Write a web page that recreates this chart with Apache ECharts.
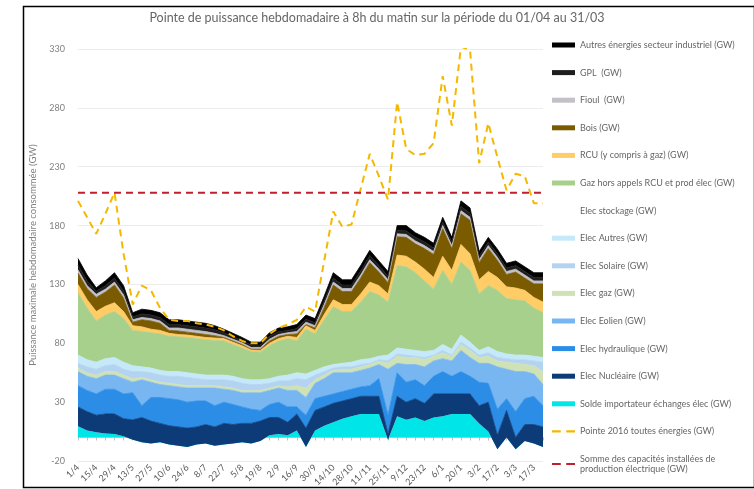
<!DOCTYPE html>
<html>
<head>
<meta charset="utf-8">
<script src="https://cdn.jsdelivr.net/npm/echarts@6/dist/echarts.min.js"></script>
<style>
  html, body { margin: 0; padding: 0; background: #ffffff; }
  #chart { width: 754px; height: 489px; }
</style>
</head>
<body>
<div id="chart"></div>
<script>
// semaines (lundi de chaque semaine, du 01/04 au 31/03)
const semaines = ['1/4', '8/4', '15/4', '22/4', '29/4', '6/5', '13/5', '20/5', '27/5', '3/6', '10/6', '17/6', '24/6',
  '1/7', '8/7', '15/7', '22/7', '29/7', '5/8', '12/8', '19/8', '26/8', '2/9', '9/9', '16/9', '23/9', '30/9',
  '7/10', '14/10', '21/10', '28/10', '4/11', '11/11', '18/11', '25/11', '2/12', '9/12', '16/12', '23/12', '30/12',
  '6/1', '13/1', '20/1', '27/1', '3/2', '10/2', '17/2', '24/2', '3/3', '10/3', '17/3', '24/3'];

const soldeImport = [9.5, 6, 4.5, 3.5, 3, 1, -2, -4, -5, -4, -6, -7, -8, -6, -5, -7, -6, -5, -4, -5, -3, 2, 3, 2, 6, -8,
  6, 10, 13, 16, 18, 20, 20, 20, -2, 18, 15, 17, 14, 17, 18, 20, 20, 20, 12, 5, -10, 0, -10, -3, -5, -8];
const elecNucleaire = [16.5, 16, 14.5, 16.5, 17, 15, 17, 21, 19, 16, 16, 16, 16, 15, 16, 16, 18, 16, 16, 17, 17, 15, 14, 11, 14, 16,
  17, 16, 16, 15, 15, 15, 15, 15, 5, 17, 15, 16, 15, 20, 19, 17, 17, 17, 15, 25, 12, 23, 10, 14, 16, 17];
const elecHydraulique = [18, 18, 18, 21, 21, 21, 23, 10, 20, 22, 23, 23, 22, 22, 20, 18, 18, 17, 14, 12, 9, 11, 13, 13, 6, 11,
  10, 9, 8, 8, 8, 8, 9, 15, 16, 20, 17, 16, 15, 15, 19, 15, 19, 15, 20, 16, 22, 10, 22, 22, 24, 18];
const elecEolien = [12, 12, 13, 12, 12, 13, 9, 22, 13, 11, 11, 11, 12, 11, 11, 15, 11, 12, 12, 14, 15, 12, 12, 14, 14, 15,
  13, 15, 18, 16, 14, 14, 15, 12, 39, 8, 15, 13, 16, 13, 11, 13, 18, 16, 16, 17, 36, 25, 34, 23, 19, 18];
const elecGaz = [3, 3, 3, 3, 3, 3, 3, 2, 2, 2, 2, 2, 2, 2, 2, 2, 2, 2, 2, 2, 2, 2, 2, 3, 4, 8,
  3, 3, 2, 3, 3, 3, 3, 3, 5, 6, 6, 6, 6, 4, 5, 4, 5, 6, 5, 6, 5, 6, 7, 6, 7, 11];
const elecSolaire = [4, 5, 5, 5, 6, 5, 6, 5, 6, 6, 6, 7, 7, 6, 5, 5, 6, 6, 6, 5, 5, 4, 4, 5, 6, 7,
  4, 3, 2, 2, 2, 2, 1, 1, 2, 2, 2, 1, 2, 1, 2, 1, 2, 2, 2, 3, 3, 3, 3, 4, 4, 8];
const elecAutres = [7, 6, 6, 6, 6, 6, 5, 4, 4, 4, 4, 4, 4, 4, 4, 4, 4, 4, 4, 4, 4, 4, 4, 5, 5, 5,
  4, 4, 3, 3, 4, 4, 4, 3, 5, 5, 5, 5, 5, 4, 5, 5, 6, 5, 4, 5, 5, 4, 4, 4, 4, 4];
const elecStockage = [0, 0, 0, 0, 0, 0, 0, 0, 0, 0, 0, 0, 0, 0, 0, 0, 0, 0, 0, 0, 0, 0, 0, 0, 0, 0,
  0, 0, 0, 0, 0, 0, 0, 0, 0, 0, 0, 0, 0, 0, 0, 0, 0, 0, 0, 0, 0, 0, 0, 0, 0, 0];
const gazHorsRcu = [53, 44, 35, 37, 39, 37, 30, 30, 30, 31, 30, 29.5, 30, 30, 30, 29.5, 29, 27, 26, 24, 23.5, 28, 30, 31, 27, 38,
  31, 40, 49, 44, 43, 49, 57, 52, 45, 70, 70, 66, 60, 52, 63, 55, 62, 61, 48, 52, 52, 47, 47, 46, 41, 38];
const rcu = [7, 7, 8, 7.5, 7.5, 6, 4, 4, 3, 3, 2.5, 2, 2, 2, 2, 2, 2, 2, 2, 1.5, 1.5, 2, 2, 2, 3, 3,
  3, 4.5, 6, 6, 6, 7, 8, 8, 7, 9, 9, 9, 10, 10, 12, 12, 15, 14, 12, 12, 11, 10, 10, 9, 9, 9];
const bois = [9.7, 9.5, 12, 12, 15, 11.5, 3, 6, 7, 6, 2.5, 3, 2.5, 2.5, 2.5, 2, 1, 1, 1, 0.5, 1, 2, 2, 1.5, 3, 1,
  2, 6, 12.5, 11, 11, 13.5, 16.5, 11.5, 9.5, 15.5, 16, 15.5, 17.5, 19.5, 23.5, 18.5, 26, 28.5, 14.5, 19.5, 14.5, 10.5, 13.5, 10.5, 11.5, 15.5];
const fioul = [2.7, 2.5, 2.7, 2.5, 2.5, 2.5, 2, 2, 2, 2, 2, 2.5, 2.5, 2.5, 2.5, 2, 1.5, 1.5, 1.5, 1.5, 1.5, 1.5, 1.5, 1.5, 2, 2,
  2, 2.5, 2.5, 2.5, 2.5, 2.5, 2.5, 2.5, 2.5, 2.5, 2.5, 2.5, 2.5, 2.5, 2.5, 2.5, 2.7, 2.5, 2.5, 2.5, 2.5, 2.5, 2.5, 2.5, 2.5, 2.5];
const gpl = [4, 4, 2.5, 3, 3.5, 3.5, 2.5, 3, 3, 3, 3, 3, 3, 3, 3, 3, 2.5, 2, 2, 2, 2, 2.5, 2.5, 2, 2.5, 2.5,
  2.5, 3, 3.5, 3, 3, 3.5, 3.5, 3, 3, 3, 3, 3, 3, 3, 3, 3, 3.5, 3.5, 3, 3, 3, 3, 3, 3, 3, 3];
const autresIndus = [5.6, 5, 3, 4, 4.5, 4.5, 3.5, 4, 4, 4, 4, 4, 4, 4, 4, 3.5, 3, 3, 2.5, 2.5, 2.5, 3, 3, 3, 3.5, 3.5,
  3.5, 4, 4.5, 4.5, 4.5, 4.5, 4.5, 4, 4, 4, 4.5, 4, 4, 4, 4, 4, 4.8, 4.5, 4, 4, 4, 4, 4, 4, 4, 4];

const pointe2016 = [201, 187, 173, 190, 208, 156, 113, 129, 125, 110, 100, 99, 99, 97, 96, 94, 91, 86, 82, 80, 80, 88, 93, 96, 100, 111,
  107, 150, 192, 179, 181, 211, 241, 222, 202, 285, 245, 240, 241, 250, 307, 265, 332, 329, 233, 267, 238, 210, 224, 222, 199, 199];
const capaciteInstallee = 208;

const yTicks = { min: -20, max: 330, interval: 50 };

const nomCapacite = 'Somme des capacités installées de production électrique (GW)';
const nomPointe = 'Pointe 2016 toutes énergies (GW)';
const iconeTirets = 'path://M0,0H8V2H0Z M13,0H21V2H13Z';

// empilement du bas vers le haut
const couches = [
  { name: 'Solde importateur échanges élec (GW)', data: soldeImport, color: '#00e5e8' },
  { name: 'Elec Nucléaire (GW)', data: elecNucleaire, color: '#0c3b78' },
  { name: 'Elec hydraulique (GW)', data: elecHydraulique, color: '#2b8de6' },
  { name: 'Elec Eolien (GW)', data: elecEolien, color: '#78b6f2' },
  { name: 'Elec gaz (GW)', data: elecGaz, color: '#cfe2b6' },
  { name: 'Elec Solaire (GW)', data: elecSolaire, color: '#b3d3f1' },
  { name: 'Elec Autres (GW)', data: elecAutres, color: '#c6e9fa' },
  { name: 'Elec stockage (GW)', data: elecStockage, color: 'rgba(255,255,255,0)' },
  { name: 'Gaz hors appels RCU et prod élec (GW)', data: gazHorsRcu, color: '#a8d08d' },
  { name: 'RCU (y compris à gaz) (GW)', data: rcu, color: '#ffcc66' },
  { name: 'Bois (GW)', data: bois, color: '#7a5b00' },
  { name: 'Fioul  (GW)', data: fioul, color: '#c3c0c8' },
  { name: 'GPL  (GW)', data: gpl, color: '#1e1e1e' },
  { name: 'Autres énergies secteur industriel (GW)', data: autresIndus, color: '#000000' }
];

let series = couches.map((c, i) => ({
  name: c.name,
  type: 'line',
  stack: 'total',
  stackStrategy: 'all',
  data: c.data,
  symbol: 'none',
  color: c.color,
  // pas de trait sur la couche du bas (sinon il dépasse sous le nucléaire quand le solde est négatif)
  lineStyle: { width: i === 0 ? 0 : 0.8, color: c.color },
  areaStyle: { color: c.color, opacity: 1 },
  emphasis: { disabled: true }
}));

series.push({
  name: nomPointe,
  type: 'line',
  data: pointe2016,
  symbol: 'none',
  color: '#f5b800',
  lineStyle: { width: 2, type: [7, 5], color: '#f5b800' },
  z: 5
});
series.push({
  name: nomCapacite,
  type: 'line',
  data: new Array(semaines.length).fill(capaciteInstallee),
  symbol: 'none',
  color: '#c0202e',
  lineStyle: { width: 2, type: [7, 5], color: '#c0202e' },
  z: 5
});

let legendData = couches.slice().reverse().map(c => ({ name: c.name, icon: 'rect' }));
legendData.push({ name: nomPointe, icon: iconeTirets });
legendData.push({ name: nomCapacite, icon: iconeTirets });

const police = 'Lato, "Noto Sans", sans-serif';

let option = {
  animation: false,
  textStyle: { fontFamily: police },
  title: {
    text: 'Pointe de puissance hebdomadaire à 8h du matin sur la période du 01/04 au 31/03',
    left: 'center',
    top: 6,
    padding: [5, 0, 5, 16],
    textStyle: { fontSize: 12.5, fontWeight: 'normal', color: '#666666', fontFamily: police }
  },
  legend: {
    orient: 'vertical',
    left: 552,
    top: 40,
    padding: 0,
    itemWidth: 23,
    itemHeight: 5,
    itemGap: 17.6,
    symbolKeepAspect: true,
    selectedMode: false,
    data: legendData,
    formatter: name => name === nomCapacite ? 'Somme des capacités installées de\nproduction électrique (GW)' : name,
    textStyle: { fontSize: 9, lineHeight: 10, color: '#666666', fontFamily: police }
  },
  grid: { left: 78, right: 211, top: 49, bottom: 15 },
  xAxis: {
    type: 'category',
    boundaryGap: false,
    data: semaines,
    axisLine: { onZero: true, lineStyle: { color: '#d9d9d9' } },
    axisTick: { show: true, interval: 0, length: 3, lineStyle: { color: '#bfbfbf' } },
    axisLabel: { interval: 1, rotate: 45, fontSize: 9, color: '#595959', margin: 5 }
  },
  yAxis: {
    type: 'value',
    min: yTicks.min,
    max: yTicks.max,
    interval: yTicks.interval,
    name: 'Puissance maximale hebdomadaire consommée (GW)',
    nameLocation: 'middle',
    nameGap: 40,
    nameTextStyle: { fontSize: 9.5, color: '#808080' },
    axisLine: { show: false },
    axisTick: { show: false },
    axisLabel: { fontSize: 9, color: '#808080', margin: 13 },
    splitLine: { lineStyle: { color: '#ececec' } }
  },
  graphic: [{
    type: 'rect',
    left: 21,
    top: 4,
    shape: { width: 731, height: 481 },
    style: { fill: 'none', stroke: '#000', lineWidth: 1.5 },
    silent: true
  }],
  series: series
};

const myChart = echarts.init(document.getElementById('chart'));
myChart.setOption(option);
</script>
</body>
</html>
